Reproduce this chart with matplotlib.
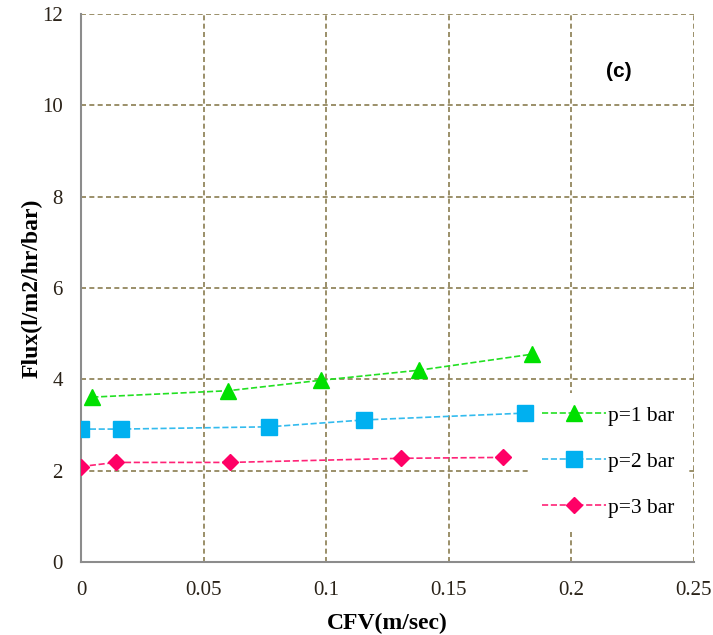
import numpy as np
import matplotlib.pyplot as plt

# flux vs cross-flow velocity at three pressures
cfv_p1 = [0.0046, 0.060, 0.098, 0.138, 0.184]
flux_p1 = [3.61, 3.75, 3.98, 4.20, 4.55]
cfv_p2 = [0.0, 0.0162, 0.0767, 0.1154, 0.181]
flux_p2 = [2.91, 2.91, 2.96, 3.11, 3.26]
cfv_p3 = [0.0, 0.0142, 0.0608, 0.1305, 0.1722]
flux_p3 = [2.09, 2.18, 2.18, 2.27, 2.29]

plt.rcParams['font.family'] = ['Liberation Serif', 'DejaVu Serif']

fig = plt.figure(figsize=(7.13, 6.35), dpi=100)
ax = fig.add_axes([0.1136, 0.115, 0.8597, 0.863])

ax.plot(cfv_p1, flux_p1, '--', color='#22e022', lw=1.2, marker='^', ms=11,
        mfc='#00e000', mec='#00e000', label='p=1 bar', zorder=3)
ax.plot(cfv_p2, flux_p2, '--', color='#33bbee', lw=1.2, marker='s', ms=11,
        mfc='#00b0f0', mec='#00b0f0', label='p=2 bar', zorder=3)
ax.plot(cfv_p3, flux_p3, '--', color='#ff2277', lw=1.2, marker='D', ms=8,
        mfc='#ff0066', mec='#ff0066', label='p=3 bar', zorder=3)

ax.set_xlim(0, 0.25)
ax.set_ylim(0, 12)
ax.set_xticks([0, 0.05, 0.1, 0.15, 0.2, 0.25])
ax.set_xticklabels(['0', '0.05', '0.1', '0.15', '0.2', '0.25'])
ax.set_yticks([0, 2, 4, 6, 8, 10, 12])

ax.grid(True, color='#8a7d50', linestyle='--', lw=1.2, dashes=(3, 2))
ax.set_axisbelow(True)
for s in ['top', 'right']:
    ax.spines[s].set_visible(False)
for s in ['left', 'bottom']:
    ax.spines[s].set_color('#8c8c8c')
    ax.spines[s].set_linewidth(1.5)
ax.tick_params(length=0, labelsize=15, labelcolor='#2a2218')
ax.tick_params(axis='x', pad=14)
ax.tick_params(axis='y', pad=13)

ax.set_xlabel('CFV(m/sec)', fontsize=17, fontweight='bold', labelpad=9)
ax.set_ylabel('Flux(l/m2/hr/bar)', fontsize=17, fontweight='bold', labelpad=0)

ax.text(0.877, 0.895, '(c)', transform=ax.transAxes, fontsize=15,
        fontweight='bold', family='Liberation Sans', ha='center', va='center')

leg = ax.legend(loc='center', bbox_to_anchor=(0.860, 0.183), fontsize=15.5,
                frameon=True, framealpha=1, edgecolor='none', handlelength=3.0,
                labelspacing=1.2, handletextpad=0.1, borderpad=0.6)
leg.get_frame().set_boxstyle('square', pad=0)
leg.set_zorder(2.5)  # keep the data markers on top of the legend box

fig.savefig('out.png', dpi=100)
